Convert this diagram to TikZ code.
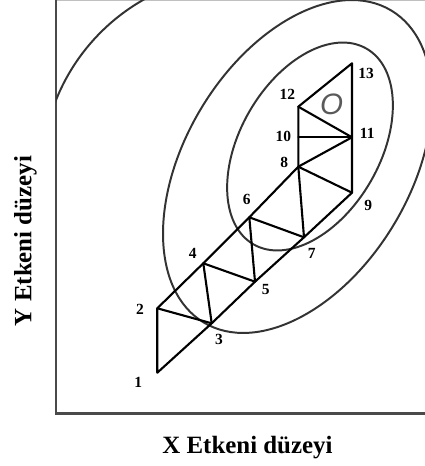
\documentclass[tikz,border=0pt]{standalone}
\usepackage{fontspec}
\setmainfont{Liberation Serif}
\setsansfont{Liberation Sans}
\definecolor{cframe}{HTML}{4A4A4A}
\definecolor{ccont}{HTML}{333333}
\definecolor{cgrey}{HTML}{5A5A5A}
\tikzset{
  every picture/.style={x=0.025cm, y=0.025cm},
  frameline/.style={draw=cframe, line width=1.8pt},
  contour/.style={draw=ccont, line width=1.4pt},
  bar/.style={draw=black, line width=1.5pt, line cap=round, line join=round},
  num/.style={font=\fontsize{11}{13}\selectfont\bfseries, inner sep=0pt},
  axistitle/.style={font=\fontsize{17.7}{20}\selectfont\bfseries, inner sep=0pt, anchor=base},
}

\begin{document}
\begin{tikzpicture}
  \useasboundingbox (0,0) rectangle (425,466);
  % frame
  \draw[draw=cframe!35, line width=1pt] (56,466) -- (425,466);
  \draw[frameline] (56,466) -- (56,52.7) -- (425,52.7);
  % contour lines
  \coordinate (cout) at (243.1,291.1);
  \coordinate (cmid) at (297.5,299.5);
  \coordinate (cin) at (310,319.5);
  \begin{scope}
    \clip (56,52.7) rectangle (425,466);
    \draw[contour] (cout) ++(165:201.5) arc[start angle=165, end angle=110, radius=201.5];
    \draw[contour] (cmid) ellipse[x radius=182, y radius=112.5, rotate=59];
    \draw[contour] (cin) ellipse[x radius=113, y radius=70, rotate=60];
  \end{scope}
  % simplex steps
  \coordinate (p1) at (157.3,93.3);
  \coordinate (p2) at (157.3,157.7);
  \coordinate (p3) at (211.7,142.7);
  \coordinate (p4) at (203.3,202.7);
  \coordinate (p5) at (255,184.3);
  \coordinate (p6) at (249.3,248.7);
  \coordinate (p7) at (304,228.7);
  \coordinate (p8) at (298.3,299.3);
  \coordinate (p9) at (352,273.3);
  \coordinate (p10) at (298.3,328.7);
  \coordinate (p11) at (352,328.7);
  \coordinate (p12) at (298.3,359.3);
  \coordinate (p13) at (352,402.7);
  \draw[bar] (p1) -- (p2) -- (p4) -- (p6) -- (p8) -- (p10) -- (p12) -- (p13)
             -- (p11) -- (p9) -- (p7) -- (p5) -- (p3) -- cycle;
  \foreach \a/\b in {2/3, 3/4, 4/5, 5/6, 6/7, 7/8, 8/9, 8/11, 10/11, 11/12}
    \draw[bar] (p\a) -- (p\b);
  % vertex numbers
  \node[num] (n1) at (138.3,83.3) {1};
  \node[num] (n2) at (140,156.7) {2};
  \node[num] (n3) at (219,126.7) {3};
  \node[num] (n4) at (192.7,212.7) {4};
  \node[num] (n5) at (265.7,176) {5};
  \node[num] (n6) at (246.7,266.7) {6};
  \node[num] (n7) at (311.7,212.7) {7};
  \node[num] (n8) at (284.3,303.3) {8};
  \node[num] (n9) at (368.3,260.3) {9};
  \node[num] (n10) at (283.3,329.3) {10};
  \node[num] (n11) at (367.3,332.7) {11};
  \node[num] (n12) at (287.3,371.7) {12};
  \node[num] (n13) at (366,392.7) {13};
  \node[font=\sffamily\itshape\fontsize{21}{24}\selectfont, text=cgrey, inner sep=0pt] (opt) at (331.7,362) {O};
  % axis titles
  \node[axistitle] (xlab) at (247.5,12.8) {X Etkeni düzeyi};
  \node[axistitle, rotate=90] (ylab) at (31.5,225) {Y Etkeni düzeyi};
\end{tikzpicture}
\end{document}
